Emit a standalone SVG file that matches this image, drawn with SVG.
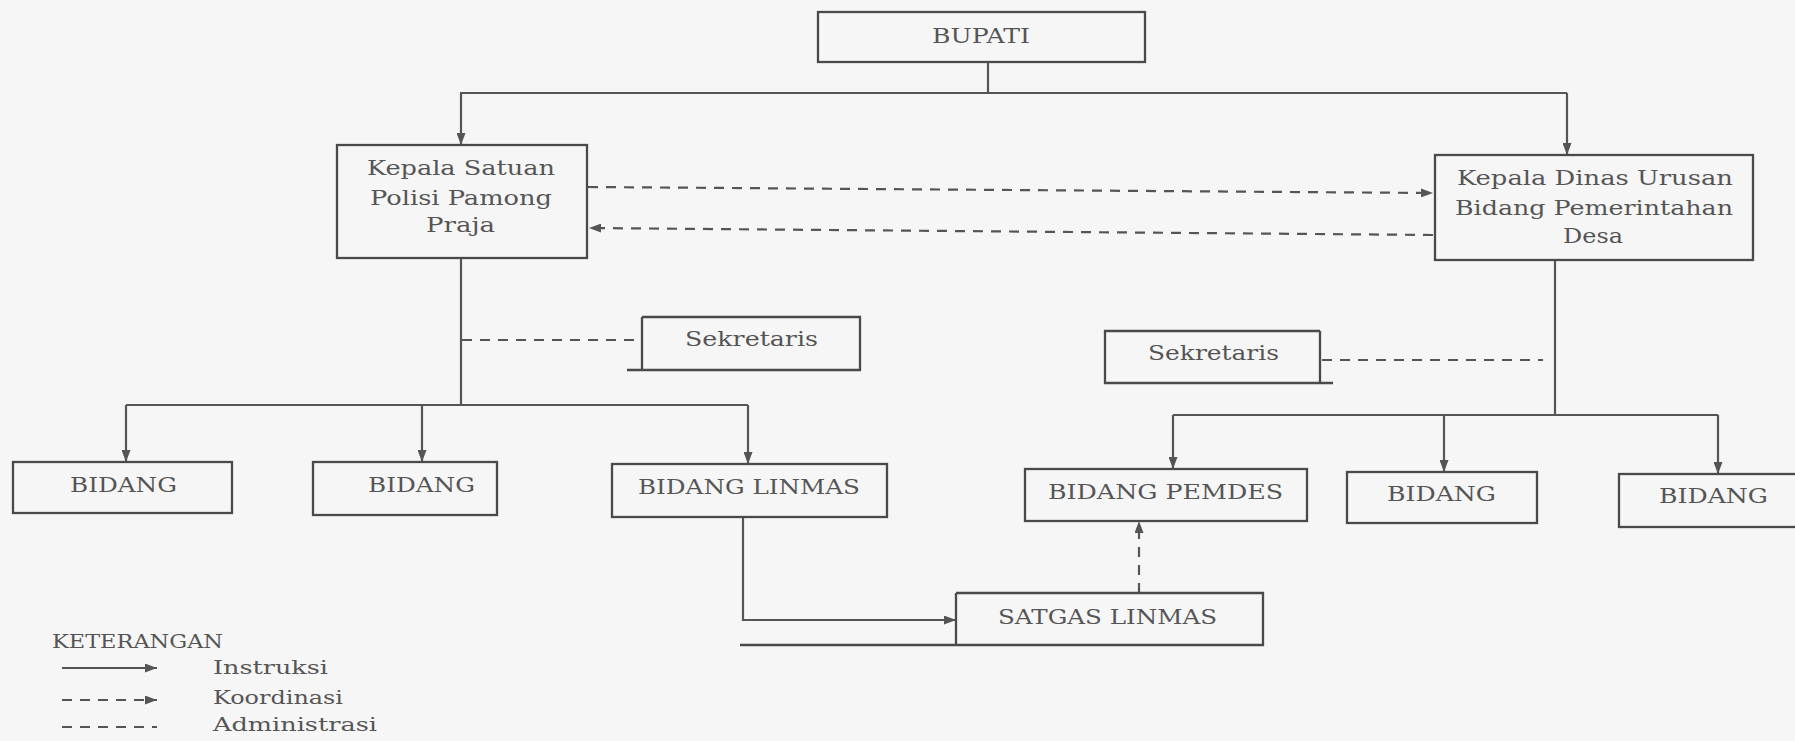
<svg xmlns="http://www.w3.org/2000/svg" width="1795" height="741" viewBox="0 0 1795 741">
<style>
.box{fill:none;stroke:#4a4a4a;stroke-width:2.3}
.ln{fill:none;stroke:#555;stroke-width:2.2}
.dash{fill:none;stroke:#555;stroke-width:2.2;stroke-dasharray:10 8}
.t{font-family:"DejaVu Serif","Liberation Serif",serif;font-size:20px;fill:#555}
.b{font-size:21px}
.lg{font-family:"DejaVu Serif","Liberation Serif",serif;font-size:18px;fill:#555}
</style>
<defs>
<marker id="ah" markerWidth="12" markerHeight="9" refX="12" refY="4.5" orient="auto" markerUnits="userSpaceOnUse">
<path d="M0,0 L12,4.5 L0,9 Z" fill="#555"/>
</marker>
</defs>
<rect width="1795" height="741" fill="#f6f6f6"/>

<g id="connectors">
<path class="ln" d="M988,62 V93 M460,93 H1567"/>
<path class="ln" d="M461,93 V145" marker-end="url(#ah)"/>
<path class="ln" d="M1567,93 V155" marker-end="url(#ah)"/>
<path class="dash" d="M588,187 L1433,193" marker-end="url(#ah)"/>
<path class="dash" d="M1433,235 L589,228" marker-end="url(#ah)"/>
<path class="ln" d="M461,258 V405 M126,405 H748"/>
<path class="ln" d="M126,405 V462" marker-end="url(#ah)"/>
<path class="ln" d="M422,405 V462" marker-end="url(#ah)"/>
<path class="ln" d="M748,405 V464" marker-end="url(#ah)"/>
<path class="dash" d="M462,340 H642"/>
<path class="ln" d="M1555,260 V415 M1173,415 H1718"/>
<path class="ln" d="M1173,415 V469" marker-end="url(#ah)"/>
<path class="ln" d="M1444,415 V472" marker-end="url(#ah)"/>
<path class="ln" d="M1718,415 V474" marker-end="url(#ah)"/>
<path class="dash" d="M1322,360 H1543"/>
<path class="ln" d="M743,517 V620 H956" marker-end="url(#ah)"/>
<path class="dash" d="M1139,593 V521" marker-end="url(#ah)"/>
</g>

<g id="bupati">
<rect class="box" x="818" y="12" width="327" height="50"/>
<text class="t" x="932" y="43" textLength="98" lengthAdjust="spacingAndGlyphs">BUPATI</text>
</g>
<g id="kepala-satpol">
<rect class="box" x="337" y="145" width="250" height="113"/>
<text class="t" x="367" y="175" textLength="188" lengthAdjust="spacingAndGlyphs">Kepala Satuan</text>
<text class="t" x="370" y="205" textLength="182" lengthAdjust="spacingAndGlyphs">Polisi Pamong</text>
<text class="t" x="426" y="232" textLength="69" lengthAdjust="spacingAndGlyphs">Praja</text>
</g>
<g id="kepala-dinas">
<rect class="box" x="1435" y="155" width="318" height="105"/>
<text class="t" x="1457" y="185" textLength="276" lengthAdjust="spacingAndGlyphs">Kepala Dinas Urusan</text>
<text class="t" x="1455" y="215" textLength="278" lengthAdjust="spacingAndGlyphs">Bidang Pemerintahan</text>
<text class="t" x="1563" y="243" textLength="60" lengthAdjust="spacingAndGlyphs">Desa</text>
</g>
<g id="sekretaris-kiri">
<path class="box" d="M642,317 H860 V370 H627 M642,317 V370"/>
<text class="t" x="685" y="346" textLength="133" lengthAdjust="spacingAndGlyphs">Sekretaris</text>
</g>
<g id="sekretaris-kanan">
<path class="box" d="M1320,331 H1105 V383 H1333 M1320,331 V383"/>
<text class="t" x="1148" y="360" textLength="131" lengthAdjust="spacingAndGlyphs">Sekretaris</text>
</g>
<g id="bidang-1">
<rect class="box" x="13" y="462" width="219" height="51"/>
<text class="t b" x="70" y="492" textLength="107" lengthAdjust="spacingAndGlyphs">BIDANG</text>
</g>
<g id="bidang-2">
<rect class="box" x="313" y="462" width="184" height="53"/>
<text class="t b" x="368" y="492" textLength="107" lengthAdjust="spacingAndGlyphs">BIDANG</text>
</g>
<g id="bidang-linmas">
<rect class="box" x="612" y="464" width="275" height="53"/>
<text class="t b" x="638" y="494" textLength="222" lengthAdjust="spacingAndGlyphs">BIDANG LINMAS</text>
</g>
<g id="bidang-pemdes">
<rect class="box" x="1025" y="469" width="282" height="52"/>
<text class="t b" x="1048" y="499" textLength="235" lengthAdjust="spacingAndGlyphs">BIDANG PEMDES</text>
</g>
<g id="bidang-3">
<rect class="box" x="1347" y="472" width="190" height="51"/>
<text class="t b" x="1387" y="501" textLength="109" lengthAdjust="spacingAndGlyphs">BIDANG</text>
</g>
<g id="bidang-4">
<rect class="box" x="1619" y="474" width="180" height="53"/>
<text class="t b" x="1659" y="503" textLength="109" lengthAdjust="spacingAndGlyphs">BIDANG</text>
</g>
<g id="satgas-linmas">
<path class="box" d="M956,593 H1263 V645 H740 M956,593 V645"/>
<text class="t" x="998" y="624" textLength="219" lengthAdjust="spacingAndGlyphs">SATGAS LINMAS</text>
</g>

<g id="legend">
<text class="lg" x="52" y="648" textLength="171" lengthAdjust="spacingAndGlyphs">KETERANGAN</text>
<path class="ln" d="M62,668 H157" marker-end="url(#ah)"/>
<text class="lg" x="213" y="674" textLength="115" lengthAdjust="spacingAndGlyphs">Instruksi</text>
<path class="dash" d="M62,700 H157" marker-end="url(#ah)"/>
<text class="lg" x="213" y="704" textLength="130" lengthAdjust="spacingAndGlyphs">Koordinasi</text>
<path class="dash" d="M62,727 H157"/>
<text class="lg" x="213" y="731" textLength="164" lengthAdjust="spacingAndGlyphs">Administrasi</text>
</g>
</svg>
